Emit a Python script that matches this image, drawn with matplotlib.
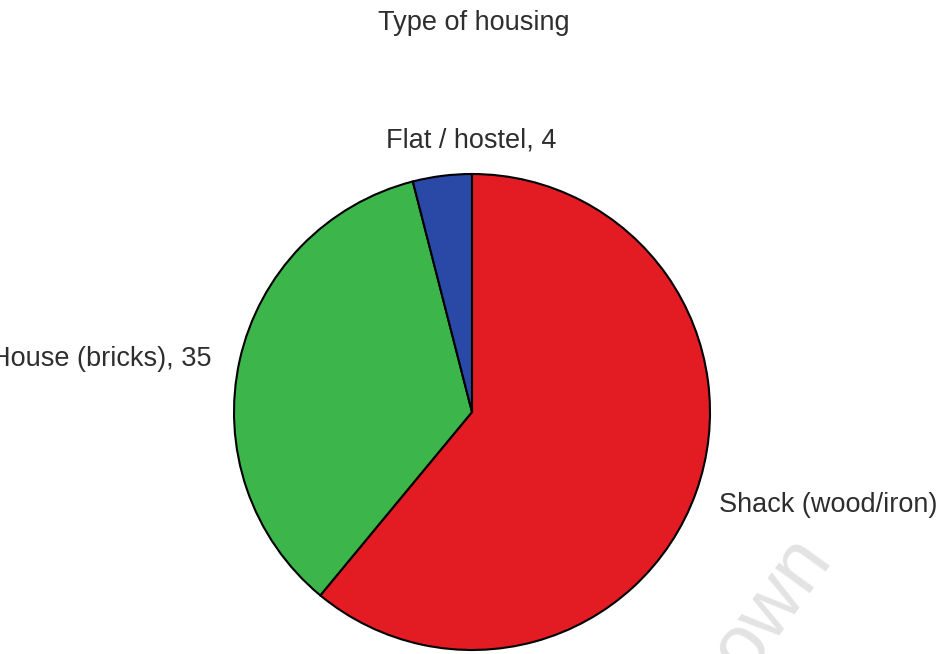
import matplotlib.pyplot as plt

plt.rcParams['font.family'] = ['Liberation Sans', 'DejaVu Sans']

# housing counts
categories = ['Shack (wood/iron)', 'House (bricks)', 'Flat / hostel']
values = [61, 35, 4]
colors = ['#e31b23', '#3cb54a', '#2a49a6']

W, H = 937, 654
fig = plt.figure(figsize=(W / 100, H / 100), dpi=100)
ax = fig.add_axes([0, 0, 1, 1])

wedges, _ = ax.pie(values, colors=colors, startangle=90, counterclock=False,
                   center=(472, H - 412), radius=238, frame=True,
                   wedgeprops=dict(edgecolor='black', linewidth=1.5))
ax.set_xlim(0, W)
ax.set_ylim(0, H)
ax.set_aspect('equal')
ax.axis('off')

labels = [f'{c}, {v}' for c, v in zip(categories, values)]
txt = dict(fontsize=19.5, color='#2e2e2e', va='baseline')
ax.text(719, H - 512, labels[0], ha='left', **txt)
ax.text(212, H - 366, labels[1], ha='right', **txt)
ax.text(471, H - 148, labels[2], ha='center', **txt)

ax.text(474, H - 30, 'Type of housing', ha='center', **txt)

# faint watermark
ax.text(772, H - 605, 'own', fontsize=58, color='#e3e3e3', rotation=54,
        ha='center', va='center', zorder=0)

fig.savefig('out.png', dpi=100)
